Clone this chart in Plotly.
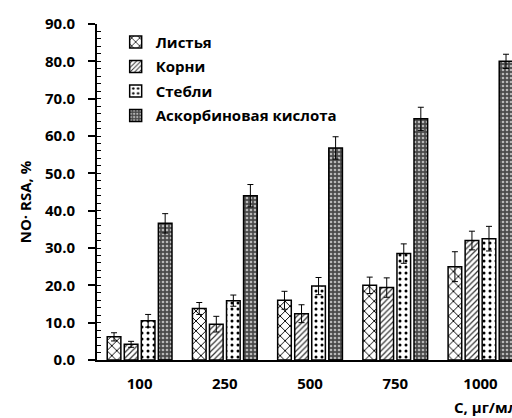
import plotly.graph_objects as go

concentrations = ["100", "250", "500", "750", "1000"]

leaves = [6.2, 13.8, 16.0, 20.0, 25.0]
leaves_err = [1.1, 1.6, 2.4, 2.2, 4.0]

roots = [4.2, 9.6, 12.4, 19.4, 32.0]
roots_err = [0.8, 2.1, 2.4, 2.6, 2.5]

stems = [10.5, 15.9, 19.8, 28.5, 32.5]
stems_err = [1.7, 1.5, 2.3, 2.6, 3.3]

ascorbic = [36.6, 44.0, 56.8, 64.6, 80.0]
ascorbic_err = [2.6, 3.0, 3.0, 3.1, 1.9]

y_ticks = [0, 10, 20, 30, 40, 50, 60, 70, 80, 90]

FONT = "Open Sans, Lato, DejaVu Sans, sans-serif"
BOLD = dict(family=FONT, size=15, color="black", weight="bold")

series = [
    ("Листья", leaves, leaves_err,
     dict(shape="x", size=7, solidity=0.25, fgcolor="black", bgcolor="white")),
    ("Корни", roots, roots_err,
     dict(shape="/", size=4, solidity=0.3, fgcolor="#333", bgcolor="white")),
    ("Стебли", stems, stems_err,
     dict(shape=".", size=6, solidity=0.2, fgcolor="black", bgcolor="white")),
    ("Аскорбиновая кислота", ascorbic, ascorbic_err,
     dict(shape=".", size=4, solidity=0.35, fgcolor="#b8b8b8", bgcolor="#4a4a4a")),
]

fig = go.Figure()
for i, (name, vals, errs, pat) in enumerate(series):
    fig.add_trace(go.Bar(
        x=concentrations, y=vals, name=name,
        legendgroup=str(i),
        marker=dict(color=pat["bgcolor"], pattern=dict(fillmode="replace", **pat),
                    line=dict(color="black", width=1.5)),
        error_y=dict(type="data", array=errs, visible=True,
                     color="black", thickness=1, width=3),
    ))

# invisible trace carrying the inner tick marks of the value axis
fig.add_trace(go.Scatter(x=[concentrations[0]], y=[0], yaxis="y2",
                         mode="markers", marker=dict(opacity=0),
                         showlegend=False, hoverinfo="skip"))

fig.update_layout(
    width=512, height=418,
    margin=dict(l=97, r=0, t=24, b=58),
    paper_bgcolor="white", plot_bgcolor="white",
    barmode="group", bargap=0.2, bargroupgap=0.2,
    font=BOLD,
    showlegend=True,
    legend=dict(x=0.045, y=0.995, xanchor="left", yanchor="top",
                traceorder="grouped", tracegroupgap=2,
                bgcolor="rgba(0,0,0,0)", font=BOLD),
    xaxis=dict(
        range=[-0.5, 4.37],
        showline=True, linecolor="black", linewidth=2,
        ticks="outside", ticklen=9, tickcolor="rgba(0,0,0,0)",
        tickfont=BOLD,
        showgrid=False, zeroline=False,
    ),
    yaxis=dict(
        range=[0, 90], tickvals=y_ticks, tickformat=".1f",
        showline=True, linecolor="black", linewidth=2,
        ticks="outside", ticklen=7, tickwidth=1.5, tickcolor="black",
        ticklabelstandoff=10,
        tickfont=BOLD,
        showgrid=False, zeroline=False,
    ),
    yaxis2=dict(
        overlaying="y", side="left", range=[0, 90], dtick=2,
        ticks="inside", ticklen=4, tickwidth=1, tickcolor="black",
        showticklabels=False, showline=False, showgrid=False, zeroline=False,
    ),
    annotations=[
        dict(text="NO· RSA, %", textangle=-90, xref="paper", yref="paper",
             x=-0.173, y=0.47, xanchor="center", yanchor="middle",
             showarrow=False, font=BOLD),
        dict(text="C, μг/мл", xref="paper", yref="paper",
             x=0.855, y=-0.14, xanchor="left", yanchor="middle",
             showarrow=False, font=BOLD),
    ],
)

fig.write_html("out.html")
